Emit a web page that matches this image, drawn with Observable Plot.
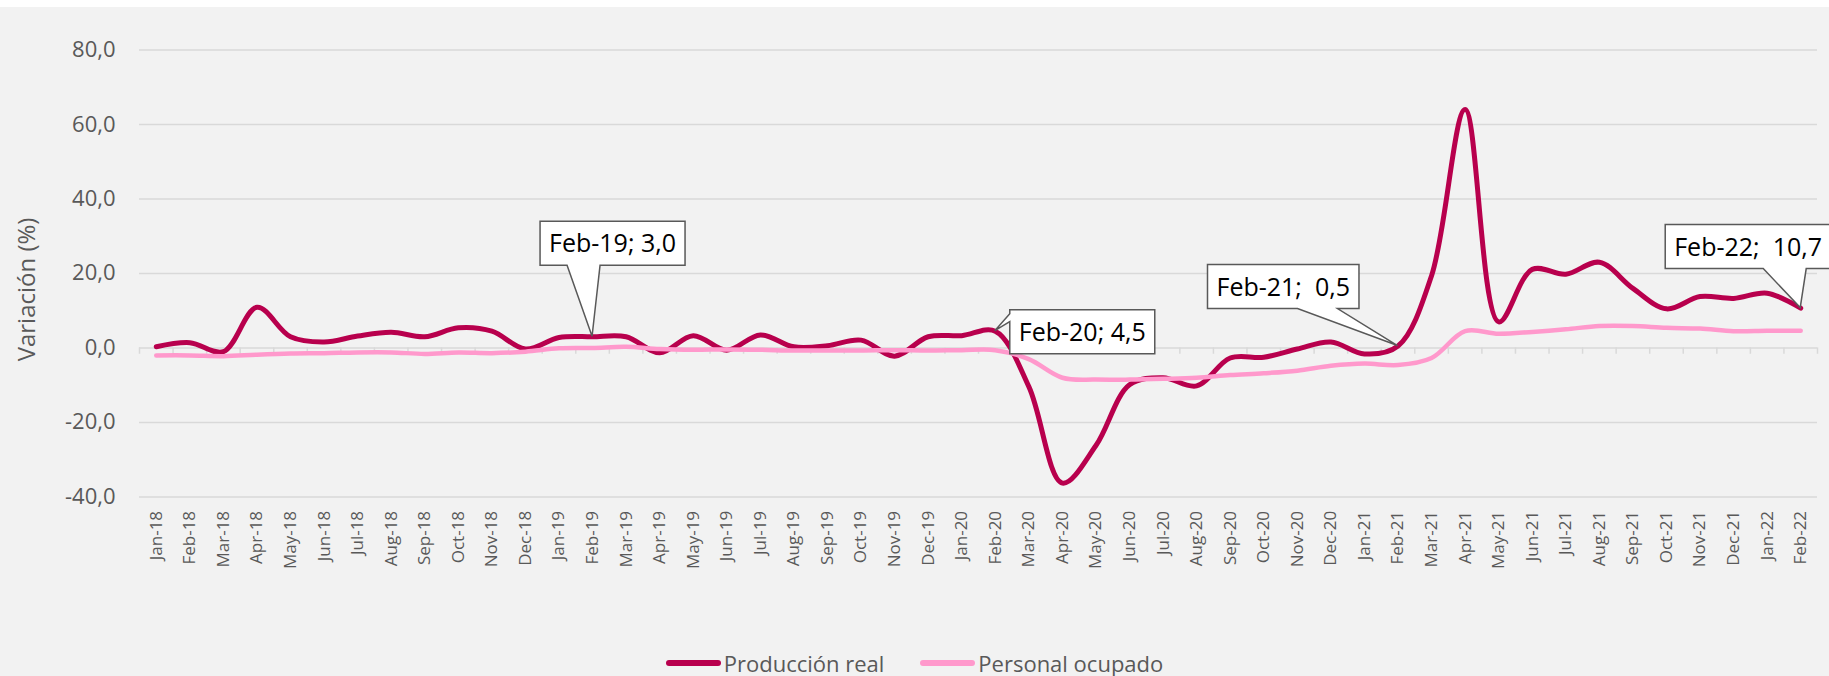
<!DOCTYPE html>
<html>
<head>
<meta charset="utf-8">
<script src="https://cdn.jsdelivr.net/npm/d3@7"></script>
<script src="https://cdn.jsdelivr.net/npm/@observablehq/plot@0.6"></script>
<style>
  html, body { margin: 0; padding: 0; background: #f2f2f2; width: 1829px; height: 676px; overflow: hidden; font-family: "Open Sans", sans-serif; }
  #topstrip { height: 7px; background: #ffffff; }
  #chart svg { display: block; }
  #legend { display: flex; justify-content: center; align-items: center; height: 36px; margin-top: 5px; color: #595959; font-size: 22px; }
  .item { display: flex; align-items: center; margin: 0 18px; }
  .sw { width: 55px; height: 6px; border-radius: 3px; margin-right: 3px; }
</style>
</head>
<body>
<div id="topstrip"></div>
<div id="chart"></div>
<div id="legend"></div>
<script>
const months = ["Jan-18","Feb-18","Mar-18","Apr-18","May-18","Jun-18","Jul-18","Aug-18","Sep-18","Oct-18","Nov-18","Dec-18",
  "Jan-19","Feb-19","Mar-19","Apr-19","May-19","Jun-19","Jul-19","Aug-19","Sep-19","Oct-19","Nov-19","Dec-19",
  "Jan-20","Feb-20","Mar-20","Apr-20","May-20","Jun-20","Jul-20","Aug-20","Sep-20","Oct-20","Nov-20","Dec-20",
  "Jan-21","Feb-21","Mar-21","Apr-21","May-21","Jun-21","Jul-21","Aug-21","Sep-21","Oct-21","Nov-21","Dec-21",
  "Jan-22","Feb-22"];

const produccionReal = [0.3, 1.4, -1.0, 10.9, 3.0, 1.6, 3.2, 4.2, 3.0, 5.4, 4.5, -0.3,
  2.8, 3.0, 3.0, -1.3, 3.3, -0.6, 3.5, 0.3, 0.6, 2.1, -2.2, 3.0,
  3.3, 4.5, -10.4, -36.3, -26.2, -9.9, -8.0, -10.2, -2.7, -2.5, -0.3, 1.6,
  -1.6, 0.5, 19.4, 64.0, 7.0, 21.1, 19.8, 23.0, 16.0, 10.5, 13.8, 13.3,
  14.7, 10.7];

const personalOcupado = [-2.0, -2.0, -2.2, -1.8, -1.5, -1.4, -1.2, -1.2, -1.6, -1.2, -1.4, -1.0,
  -0.1, 0.0, 0.3, -0.3, -0.5, -0.4, -0.5, -0.7, -0.7, -0.7, -0.6, -0.7,
  -0.6, -0.6, -3.0, -8.0, -8.5, -8.5, -8.3, -8.0, -7.3, -6.8, -6.1, -4.8,
  -4.2, -4.6, -2.7, 4.5, 3.8, 4.3, 5.0, 5.9, 5.9, 5.4, 5.2, 4.5,
  4.6, 4.6];

const yTicks = [-40, -20, 0, 20, 40, 60, 80];
const seriesNames = ["Producción real", "Personal ocupado"];
const seriesColors = ["#b8004d", "#ff99cc"];
const yLabel = "Variación (%)";

const annotMonths = ["Feb-19", "Feb-20", "Feb-21", "Feb-22"];
const annotSeparators = ["; ", "; ", ";  ", ";  "];

// layout of the callouts (pixels, relative to the annotated point)
const annotLayout = [
  {dx: -52, dy: -115, side: "bottom", b0: -25, b1: 8},
  {dx: 15, dy: -21, side: "left", b0: -17, b1: -9},
  {dx: -190, dy: -81, side: "bottom", b0: -100, b1: -60},
  {dx: -135, dy: -83, side: "bottom", b0: -37, b1: 6}
];

const fmt = v => v.toFixed(1).replace(".", ",");

const data = months.map((m, i) => ({month: m, prod: produccionReal[i], pers: personalOcupado[i]}));
const annots = annotMonths.map((m, k) => {
  const i = months.indexOf(m);
  return {month: m, value: produccionReal[i], label: m + annotSeparators[k] + fmt(produccionReal[i]), layout: annotLayout[k]};
});

const W = 1829, H = 633;
const mL = 139, mR = 12, mT = 42.5, mB = 143.6;
const halfStep = (W - mL - mR) / months.length / 2;

const annotFont = "25px 'Open Sans'";
const measureCtx = document.createElement("canvas").getContext("2d");
measureCtx.font = annotFont;

function callouts(index, scales) {
  const g = d3.create("svg:g");
  for (const a of annots) {
    const px = scales.x(a.month), py = scales.y(a.value);
    const L = a.layout;
    const tw = measureCtx.measureText(a.label).width;
    const pad = 9, bh = 44;
    const left = px + L.dx, top = py + L.dy, right = left + tw + 2 * pad, bottom = top + bh;
    let p;
    if (L.side === "bottom") {
      p = `M${left},${top}H${right}V${bottom}H${px + L.b1}L${px},${py}L${px + L.b0},${bottom}H${left}Z`;
    } else {
      p = `M${left},${top}H${right}V${bottom}H${left}V${py + L.b1}L${px},${py}L${left},${py + L.b0}Z`;
    }
    g.append("path").attr("d", p).attr("fill", "#ffffff").attr("stroke", "#595959").attr("stroke-width", 1.5).attr("stroke-linejoin", "miter");
    g.append("text").attr("x", left + pad).attr("y", top + bh / 2).attr("dy", "0.36em")
      .attr("text-anchor", "start")
      .attr("fill", "#000000").style("font", annotFont).style("white-space", "pre").attr("xml:space", "preserve")
      .text(a.label);
  }
  return g.node();
}

const chart = Plot.plot({
  width: W, height: H,
  marginLeft: mL, marginRight: mR, marginTop: mT, marginBottom: mB,
  style: {background: "transparent", fontFamily: "'Open Sans', sans-serif", color: "#595959", overflow: "visible"},
  x: {type: "point", domain: months, padding: 0.5, round: false},
  y: {domain: [-40, 80]},
  marks: [
    Plot.ruleY(yTicks, {stroke: "#d9d9d9", strokeWidth: 1.5}),
    Plot.ruleX(months, {x: d => d, y1: 0, y2: -1.7, dx: -halfStep, stroke: "#d9d9d9", strokeWidth: 1.5}),
    Plot.ruleX([months[months.length - 1]], {x: d => d, y1: 0, y2: -1.7, dx: halfStep, stroke: "#d9d9d9", strokeWidth: 1.5}),
    Plot.axisY({ticks: yTicks, tickSize: 0, tickPadding: 24, tickFormat: fmt, fontSize: 22, label: null}),
    Plot.axisX({tickRotate: -90, tickSize: 0, tickPadding: 14, fontSize: 17, label: null, style: {letterSpacing: "1px"}}),
    Plot.line(data, {x: "month", y: "prod", curve: "catmull-rom", stroke: seriesColors[0], strokeWidth: 5}),
    Plot.line(data, {x: "month", y: "pers", curve: "catmull-rom", stroke: seriesColors[1], strokeWidth: 4.5}),
    callouts,
    Plot.text([yLabel], {text: d => d, frameAnchor: "left", dx: -112, dy: 16, rotate: -90, fontSize: 24, fill: "#595959", textAnchor: "middle", lineAnchor: "middle"})
  ]
});
document.getElementById("chart").appendChild(chart);

const legend = document.getElementById("legend");
seriesNames.forEach((n, i) => {
  const it = document.createElement("div");
  it.className = "item";
  const sw = document.createElement("div");
  sw.className = "sw";
  sw.style.background = seriesColors[i];
  const t = document.createElement("span");
  t.textContent = n;
  it.appendChild(sw); it.appendChild(t);
  legend.appendChild(it);
});
</script>
</body>
</html>
